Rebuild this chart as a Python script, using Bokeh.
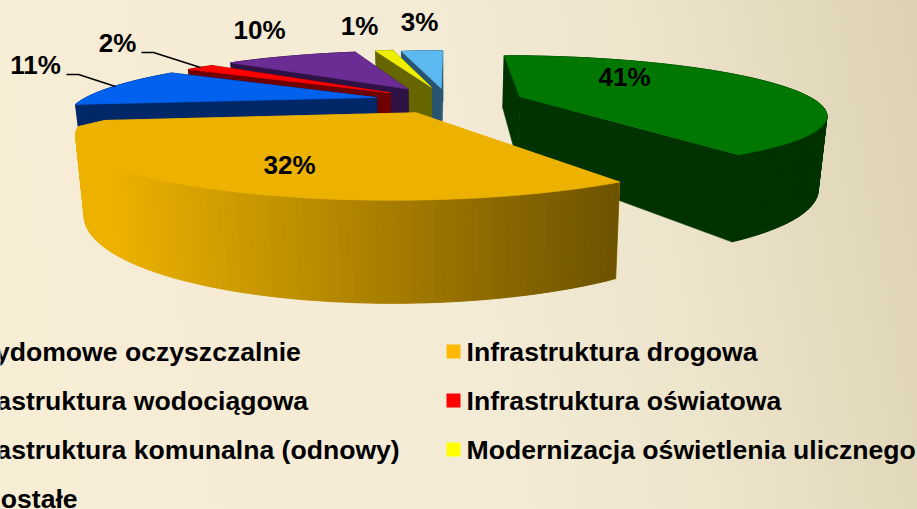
import math
import numpy as np
from bokeh.plotting import figure
from bokeh.models import Range1d, ColumnDataSource
from bokeh.core.properties import value
from bokeh.embed import file_html
from bokeh.resources import INLINE

# ---- data
categories = ["Przydomowe oczyszczalnie", "Infrastruktura drogowa", "Infrastruktura wodociągowa",
              "Infrastruktura oświatowa", "Infrastruktura komunalna (odnowy)",
              "Modernizacja oświetlenia ulicznego", "Pozostałe"]
values = [41, 32, 11, 2, 10, 1, 3]
top_colors = ["#007700", "#EDB200", "#0061EE", "#FF0000", "#6B2C93", "#EEEE00", "#5BB9F0"]
wall_colors = ["#003300", "#EDB200", "#002868", "#6F0000", "#2E1344", "#666600", "#275570"]
legend_colors = ["#007700", "#FFB900", "#0061EE", "#FF0000", "#6B2C93", "#FFFF00", "#5BB9F0"]

# ---- layout
W, H_PX = 917, 509
cx, vanish_y, H, d0, A = 447.0, -94.0, 194.0, 3.57, 295.0
wall_h, wall_shrink = 68.0, 0.977
explode = [0.26, 0.235, 0.25, 0.25, 0.265, 0.27, 0.235]
arc_du = [0, -0.025, 0, 0, 0, 0, 0]
a0_nudge = [0, 0, 0, 0, 0, -1.2, 0]
a1_nudge = [1.0, 0, 0, 0, -1.5, -0.2, 0]
corner_trim = [0, 5.0, 0, 0, 0, 0, 0]
label_xy = [(624, 76.5), (289, 164.5), (35, 64), (117, 42), (259, 29), (359, 25), (419, 21)]
leaders = [([66, 78, 115], [74, 74, 86]), ([141, 153, 200], [52, 52, 67])]
legend_rows = [351, 351, 400, 400, 449, 449, 498]
legend_text_x = [-47, 466, -47, 466, -47, 466, -47]
legend_swatch_y = [351, 351, 400, 400, 449, 449, 498]
legend_font = "26.6px"
label_font = "26px"


def project(u, v):
    f = d0 / (d0 - v)
    return cx + A * u * f, vanish_y + H * f, f


def drop(sx, sy, f):
    return cx + (sx - cx) * wall_shrink, sy + wall_h * f


def lerp_hex(c1, c2, t):
    t = max(0.0, min(1.0, t))
    a = [int(c1[i:i + 2], 16) for i in (1, 3, 5)]
    b = [int(c2[i:i + 2], 16) for i in (1, 3, 5)]
    return "#%02X%02X%02X" % tuple(round(a[i] + (b[i] - a[i]) * t) for i in range(3))


p = figure(width=W, height=H_PX, x_range=Range1d(0, W), y_range=Range1d(H_PX, 0),
           output_backend="svg", toolbar_location=None, min_border=0,
           outline_line_color=None, background_fill_color=None, border_fill_color=None)
p.axis.visible = False
p.grid.visible = False
p.styles = {"position": "fixed", "left": "0px", "top": "0px",
            "background": "linear-gradient(80deg, #F8EDD5 0%, #F4EBD6 50%, #EDE4CC 72%, #DCD1B2 100%)"}

# ---- slices (painter's order, back to front)
total = sum(values)
edges = np.cumsum([0] + values) / total * 2 * math.pi
order = [6, 5, 4, 3, 2, 0, 1]
xs, ys, fills = [], [], []


def add(px, py, col):
    xs.append([float(a) for a in px])
    ys.append([float(a) for a in py])
    fills.append(col)


for i in order:
    mid = (edges[i] + edges[i + 1]) / 2
    a0 = edges[i] + math.radians(a0_nudge[i])
    a1 = edges[i + 1] + math.radians(a1_nudge[i])
    ou, ov = explode[i] * math.sin(mid), -explode[i] * math.cos(mid)
    n = max(4, int((a1 - a0) / math.radians(1)))
    angs = np.linspace(a0, a1 - math.radians(corner_trim[i]), n + 1)
    pts = [project(ou + arc_du[i] + math.sin(a), ov - math.cos(a)) for a in angs]
    if corner_trim[i]:
        end = 0.96
        pts.append(project(ou + end * math.sin(a1), ov - end * math.cos(a1)))
        n += 1
    apex = project(ou, ov)
    low = [drop(*q) for q in pts]
    alow = drop(*apex)
    # radial walls
    add([apex[0], pts[0][0], low[0][0], alow[0]], [apex[1], pts[0][1], low[0][1], alow[1]], wall_colors[i])
    add([apex[0], pts[-1][0], low[-1][0], alow[0]], [apex[1], pts[-1][1], low[-1][1], alow[1]], wall_colors[i])
    # outer wall, strip by strip, each overlapping the next so no seams show
    for j in range(n):
        col = wall_colors[i]
        if i == 1:
            col = lerp_hex("#EDB200", "#6E5300", (pts[j][0] - 110) / (620 - 110))
        k = min(n, j + 2)
        add([pts[j][0], pts[j + 1][0], pts[k][0], low[k][0], low[j + 1][0], low[j][0]],
            [pts[j][1], pts[j + 1][1], pts[k][1], low[k][1], low[j + 1][1], low[j][1]], col)
    # top
    add([apex[0]] + [q[0] for q in pts], [apex[1]] + [q[1] for q in pts], top_colors[i])

p.patches(xs="xs", ys="ys", fill_color="c", line_color="c", line_width=0.6,
          source=ColumnDataSource(dict(xs=xs, ys=ys, c=fills)))

# ---- leaders
for lx, ly in leaders:
    p.line(lx, ly, line_color="#000000", line_width=1.6)

# ---- value labels
p.text(x=[q[0] for q in label_xy], y=[q[1] for q in label_xy], text=[f"{v}%" for v in values],
       text_font=value("Liberation Sans"), text_font_style="bold", text_font_size=label_font,
       text_align="center", text_baseline="middle", text_color="#000000")

# ---- legend
p.text(x=legend_text_x, y=legend_rows, text=categories,
       text_font=value("Liberation Sans"), text_font_style="bold", text_font_size=legend_font,
       text_align="left", text_baseline="middle", text_color="#000000")
p.rect(x=[q - 13 for q in legend_text_x], y=legend_swatch_y, width=14, height=14,
       fill_color=legend_colors, line_color=None)

open("out.html", "w").write(file_html(p, INLINE))
